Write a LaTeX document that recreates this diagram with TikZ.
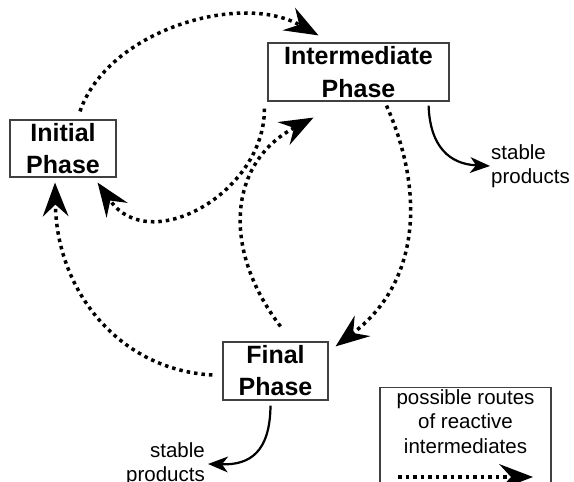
\documentclass[tikz,border=0pt]{standalone}
\usepackage{fontspec}
\setmainfont{Liberation Sans}
\usetikzlibrary{arrows.meta, positioning, calc}

\begin{document}
\begin{tikzpicture}[x=1pt, y=1pt,
		phase/.style={draw=black!75, line width=1.2pt, align=center, inner sep=0pt, font=\fontsize{25}{32}\selectfont\bfseries},
		route/.style={line width=3.5pt, dash pattern=on 3.5pt off 4pt, -{Stealth[length=34pt, width=26pt, inset=12pt, line width=0pt]}},
		product/.style={line width=2.2pt, -{Stealth[length=20pt, width=16pt, inset=6pt, line width=0pt]}},
		note/.style={inner sep=0pt, font=\fontsize{20.5}{24.5}\selectfont}]
		\useasboundingbox (0,0) rectangle (574,482);
		% phases
		\node[phase, minimum width=106pt, minimum height=57pt] (initial) at (63,333.5) {Initial\\Phase};
		\node[phase, minimum width=181pt, minimum height=58pt] (intermediate) at (358.5,410) {Intermediate\\[1pt]Phase};
		\node[phase, minimum width=105pt, minimum height=58pt] (final) at (275.5,111) {Final\\Phase};
		\node[note, align=left, anchor=north west] (stabletop) at (491,338) {stable\\products};
		\node[note, align=right, anchor=north east] (stablebottom) at (205,40) {stable\\products};
		% legend
		\node[draw=black!75, line width=1.2pt, minimum width=171pt, minimum height=110pt, anchor=north] (legend) at (465.5,95) {};
		\node[note, align=center, below=2pt of legend.north] (legendtext) {possible routes\\of reactive\\intermediates};
		\coordinate (keystart) at (398,5);
		\coordinate (keyend) at (533,5);
		\draw[route] (keystart) -- (keyend);
		% routes of reactive intermediates
		\draw[route] ([shift={(17,8)}]initial.north) .. controls (108,452) and (240,490) .. ([shift={(-40,7)}]intermediate.north);
		\draw[route] ([shift={(-3,-7)}]intermediate.south west) .. controls (265,290) and (150,225) .. ([shift={(-19,-5)}]initial.south east);
		\draw[route] ([shift={(5,15)}]final.north) .. controls (220,235) and (230,320) .. ([shift={(-45,-16)}]intermediate.south);
		\draw[route] ([shift={(28,-4)}]intermediate.south) .. controls (425,290) and (420,200) .. ([shift={(7,-5)}]final.north east);
		\draw[route] ([shift={(-10,-4)}]final.west) .. controls (120,112) and (57,190) .. ([shift={(-8,-5)}]initial.south);
		% stable products
		\draw[product] ([shift={(-21,-4)}]intermediate.south east) .. controls (430,335) and (450,318) .. ([xshift=-1pt]stabletop.west);
		\draw[product] ([shift={(-5,-5)}]final.south) .. controls (270,30) and (250,17) .. ([xshift=3pt]stablebottom.east);
	\end{tikzpicture}
\end{document}
